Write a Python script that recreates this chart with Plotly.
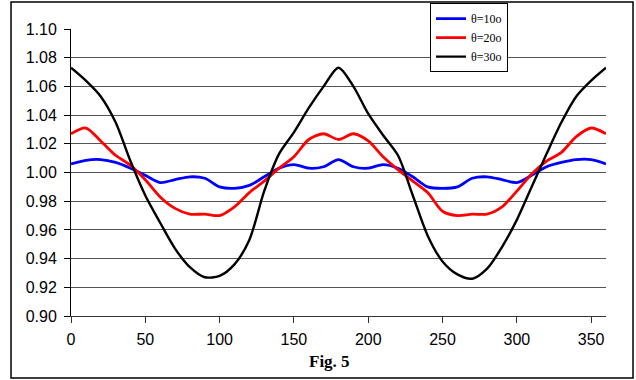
import plotly.graph_objects as go

angles = list(range(0, 361, 10))

theta10 = [1.006, 1.0085, 1.009, 1.007, 1.003, 0.998, 0.993, 0.995, 0.997, 0.996,
           0.990, 0.989, 0.991, 0.997, 1.003, 1.0055, 1.003, 1.004, 1.009, 1.004,
           1.003, 1.0055, 1.003, 0.997, 0.990, 0.989, 0.990, 0.996, 0.997, 0.995,
           0.993, 0.998, 1.004, 1.007, 1.009, 1.009, 1.006]

theta20 = [1.027, 1.031, 1.022, 1.012, 1.005, 0.995, 0.983, 0.975, 0.971, 0.971,
           0.970, 0.976, 0.986, 0.994, 1.003, 1.011, 1.023, 1.027, 1.023, 1.027,
           1.022, 1.011, 1.002, 0.994, 0.986, 0.973, 0.970, 0.971, 0.971, 0.976,
           0.987, 0.999, 1.008, 1.014, 1.025, 1.031, 1.027]

theta30 = [1.073, 1.064, 1.053, 1.035, 1.008, 0.984, 0.965, 0.947, 0.934, 0.927,
           0.928, 0.936, 0.953, 0.987, 1.013, 1.028, 1.045, 1.060, 1.073, 1.060,
           1.041, 1.026, 1.012, 0.984, 0.956, 0.938, 0.929, 0.926, 0.933, 0.948,
           0.967, 0.990, 1.013, 1.035, 1.053, 1.064, 1.073]

series_names = ["θ=10o", "θ=20o", "θ=30o"]
series_colors = ["#0000ff", "#ff0000", "#000000"]
series_widths = [2.8, 2.8, 2.4]

x_ticks = [0, 50, 100, 150, 200, 250, 300, 350]

fig = go.Figure()
for name, vals, col, w in zip(series_names, [theta10, theta20, theta30], series_colors, series_widths):
    fig.add_trace(go.Scatter(x=angles, y=vals, mode="lines", name=name,
                             line=dict(color=col, width=w, shape="spline", smoothing=0.8)))

fig.update_layout(
    width=636, height=380,
    margin=dict(l=71, r=30, t=29, b=64, autoexpand=False),
    paper_bgcolor="white", plot_bgcolor="white",
    font=dict(family="Liberation Sans, Arial", size=16, color="black"),
    showlegend=True,
    legend=dict(x=0.671, y=1.09, xanchor="left", yanchor="top",
                bgcolor="white", bordercolor="black", borderwidth=1,
                font=dict(family="Liberation Serif, Times New Roman", size=12, color="black"),
                tracegroupgap=0, itemwidth=30),
    xaxis=dict(range=[0, 360], tickvals=x_ticks, showgrid=False, zeroline=False,
               showline=True, linecolor="#333333", linewidth=1,
               ticks="outside", ticklen=6, tickcolor="#333333", ticklabelstandoff=3),
    yaxis=dict(range=[0.9, 1.1], dtick=0.02, tickformat=".2f", showgrid=True,
               gridcolor="#555555", gridwidth=1, zeroline=False,
               showline=True, linecolor="black", linewidth=1,
               ticks="outside", ticklen=6, tickcolor="black", ticklabelstandoff=4),
    annotations=[dict(text="<b>Fig. 5</b>", xref="paper", yref="paper",
                      x=0.484, y=-0.160, xanchor="center", yanchor="middle",
                      showarrow=False,
                      font=dict(family="Liberation Serif, Times New Roman", size=17, color="black"))],
    shapes=[dict(type="rect", xref="paper", yref="paper",
                 x0=-0.1121, x1=1.0505, y0=-0.216, y1=1.094,
                 line=dict(color="black", width=1.5), layer="below")],
)

fig.write_html("out.html")
